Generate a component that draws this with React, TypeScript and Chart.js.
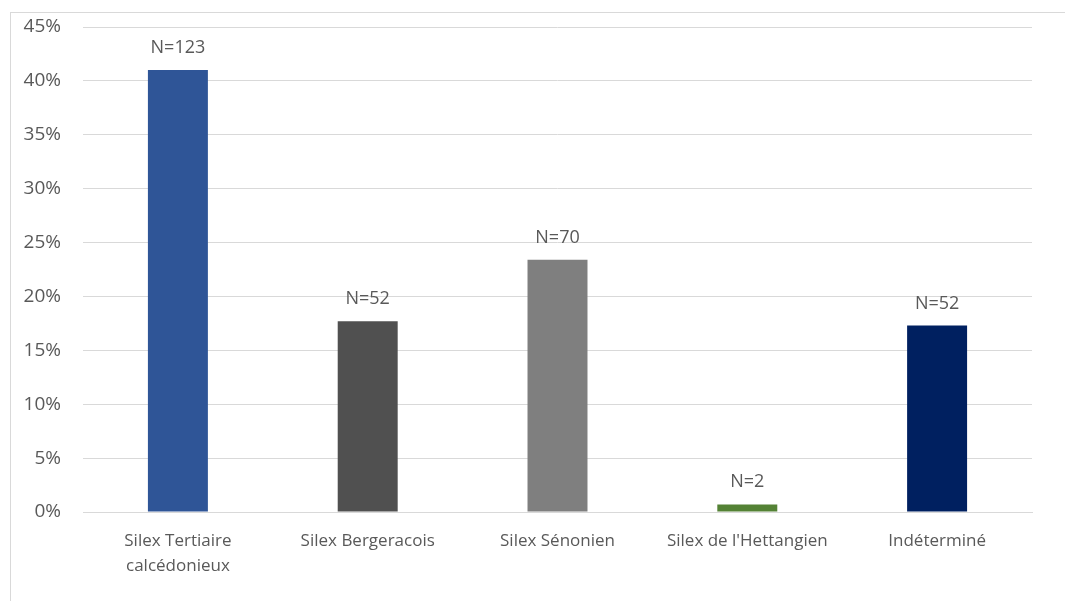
import React, { useEffect, useRef } from "react";
import { Chart, registerables } from "chart.js";

Chart.register(...registerables);

const categories: (string | string[])[] = [
  ["Silex Tertiaire", "calcédonieux"],
  "Silex Bergeracois",
  "Silex Sénonien",
  "Silex de l'Hettangien",
  "Indéterminé",
];
const percentages = [41.0, 17.7, 23.4, 0.7, 17.3];
const counts = ["N=123", "N=52", "N=70", "N=2", "N=52"];
const barColors = ["#2F5597", "#505050", "#7F7F7F", "#548235", "#002060"];
const yTicks = [0, 5, 10, 15, 20, 25, 30, 35, 40, 45];

const FONT = "'Open Sans', sans-serif";
const TEXT = "#595959";

const labelPlugin = {
  id: "countLabels",
  afterDatasetsDraw(chart: any) {
    const ctx = chart.ctx;
    const meta = chart.getDatasetMeta(0);
    ctx.save();
    ctx.font = `18px ${FONT}`;
    ctx.fillStyle = TEXT;
    ctx.textAlign = "center";
    ctx.textBaseline = "alphabetic";
    meta.data.forEach((bar: any, i: number) => {
      ctx.fillText(counts[i], bar.x, bar.y - 17);
    });
    ctx.restore();
  },
};

export default function App() {
  const ref = useRef<HTMLCanvasElement>(null);
  useEffect(() => {
    document.body.style.margin = "0";
    const chart = new Chart(ref.current!, {
      type: "bar",
      data: {
        labels: categories,
        datasets: [
          {
            data: percentages,
            backgroundColor: barColors,
            barPercentage: 0.316,
            categoryPercentage: 1,
          },
        ],
      },
      options: {
        animation: false,
        responsive: false,
        maintainAspectRatio: false,
        layout: { padding: { left: 0, right: 33, top: 27, bottom: 0 } },
        plugins: { legend: { display: false }, tooltip: { enabled: false } },
        scales: {
          x: {
            grid: { display: false, drawTicks: false },
            border: { display: true, color: "#D9D9D9", width: 1 },
            ticks: {
              color: TEXT,
              font: { family: FONT, size: 17, lineHeight: 1.45 },
              padding: 17,
              maxRotation: 0,
              autoSkip: false,
            },
            afterFit: (s: any) => {
              s.height = 89;
              s.paddingLeft = 0;
              s.paddingRight = 0;
            },
          },
          y: {
            min: 0,
            max: 45,
            afterBuildTicks: (s: any) => {
              s.ticks = yTicks.map((v) => ({ value: v }));
            },
            grid: { color: "#D9D9D9", drawTicks: false, lineWidth: 1 },
            border: { display: false },
            ticks: {
              color: TEXT,
              font: { family: FONT, size: 19 },
              padding: 22,
              callback: (v: any) => `${v}%`,
            },
            afterFit: (s: any) => {
              s.width = 83;
              s.paddingTop = 0;
              s.paddingBottom = 0;
            },
          },
        },
      },
      plugins: [labelPlugin],
    });
    return () => chart.destroy();
  }, []);
  return (
    <div style={{ position: "relative", width: 1065, height: 601, overflow: "hidden", background: "#fff" }}>
      <div
        style={{
          position: "absolute",
          left: 10,
          top: 12,
          width: 1100,
          height: 640,
          border: "1px solid #D9D9D9",
          boxSizing: "border-box",
        }}
      />
      <canvas ref={ref} width={1065} height={601} style={{ position: "absolute", left: 0, top: 0 }} />
    </div>
  );
}
